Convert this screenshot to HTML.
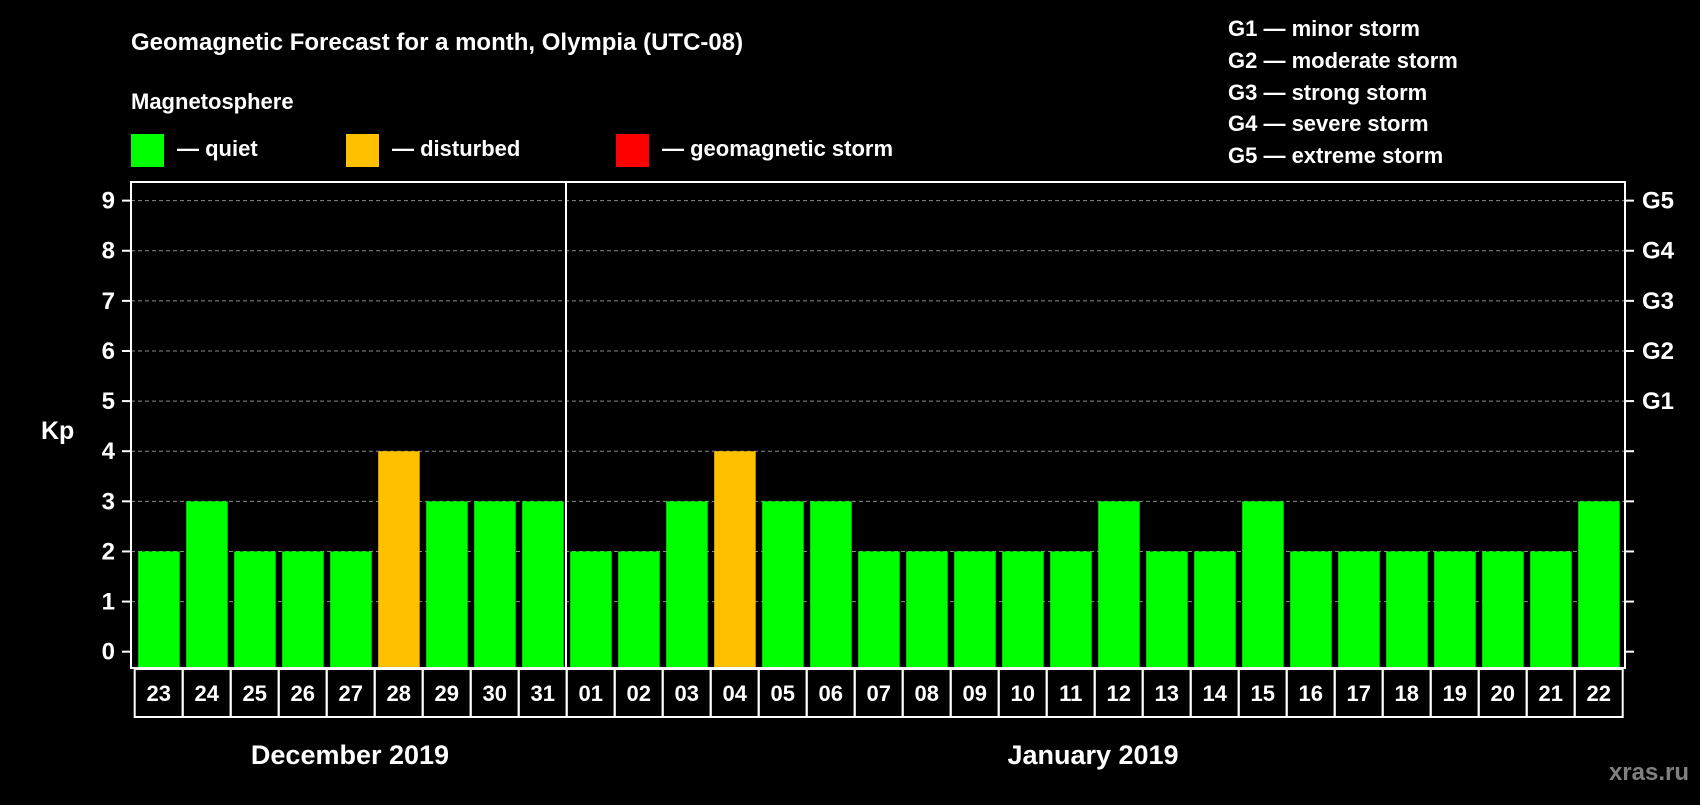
<!DOCTYPE html>
<html><head><meta charset="utf-8"><style>
body{margin:0;background:#000;width:1700px;height:800px;overflow:hidden}
svg text{font-family:"Liberation Sans",Arial,sans-serif;font-weight:bold;fill:#fff}
</style></head><body>
<svg id="chart" width="1700" height="800" xmlns="http://www.w3.org/2000/svg">
<rect width="1700" height="800" fill="#000"/>
<text x="131" y="50" font-size="24">Geomagnetic Forecast for a month, Olympia (UTC-08)</text>
<text x="131" y="109" font-size="22">Magnetosphere</text>
<g><rect x="131" y="134" width="33" height="33" fill="#00ff00"/><text x="177" y="156" font-size="22">— quiet</text></g>
<g><rect x="346" y="134" width="33" height="33" fill="#ffc000"/><text x="392" y="156" font-size="22">— disturbed</text></g>
<g><rect x="616" y="134" width="33" height="33" fill="#ff0000"/><text x="662" y="156" font-size="22">— geomagnetic storm</text></g>
<g font-size="22">
<text x="1228" y="36">G1 — minor storm</text>
<text x="1228" y="68">G2 — moderate storm</text>
<text x="1228" y="100">G3 — strong storm</text>
<text x="1228" y="131">G4 — severe storm</text>
<text x="1228" y="163">G5 — extreme storm</text>
</g>
<text x="41" y="439" font-size="25">Kp</text>
<g id="grid"></g><g id="bars"></g><g id="axes"></g><g id="dates"></g>
<text x="350" y="764" font-size="27" text-anchor="middle">December 2019</text>
<text x="1093" y="764" font-size="27" text-anchor="middle">January 2019</text>
<text x="1689" y="780" font-size="24" text-anchor="end" style="fill:#808080">xras.ru</text>
</svg>
<script>
const days=["23","24","25","26","27","28","29","30","31","01","02","03","04","05","06","07","08","09","10","11","12","13","14","15","16","17","18","19","20","21","22"];
const kpValues=[2,3,2,2,2,4,3,3,3,2,2,3,4,3,3,2,2,2,2,2,3,2,2,3,2,2,2,2,2,2,3];
const yTicks=[0,1,2,3,4,5,6,7,8,9];
const gLabels=["","","","","","G1","G2","G3","G4","G5"];
const NS="http://www.w3.org/2000/svg";
const L=131,R=1625,T=182,B=668,boxL=134.7,pitch=48;
const y=v=>651.7-50.12*v;
const x=i=>boxL+pitch*i;
function mk(tag,a,p){const e=document.createElementNS(NS,tag);for(const k in a)e.setAttribute(k,a[k]);p.appendChild(e);return e;}
const grid=document.getElementById('grid'),bars=document.getElementById('bars'),axes=document.getElementById('axes'),dates=document.getElementById('dates');
yTicks.forEach((t,i)=>{
 if(t>0){const g=mk('line',{x1:L,x2:R,y1:y(t),y2:y(t),stroke:'#8a8a8a','stroke-width':1,'stroke-dasharray':'4 3'},grid);
 }
 const tl=mk('line',{x1:L-9,x2:L,y1:y(t),y2:y(t),stroke:'#fff','stroke-width':2},axes);
 
 const tr=mk('line',{x1:R,x2:R+9,y1:y(t),y2:y(t),stroke:'#fff','stroke-width':2},axes);
 
 const lb=mk('text',{x:115,y:y(t)+8,'font-size':24,'text-anchor':'end'},axes);lb.textContent=t;
 
 if(gLabels[i]){const gl=mk('text',{x:1642,y:y(t)+8,'font-size':24},axes);gl.textContent=gLabels[i];
 }
});
kpValues.forEach((v,i)=>{
 const c=v>=5?'#ff0000':(v>=4?'#ffc000':'#00ff00');
 const r=mk('rect',{x:x(i)+3.5,y:y(v),width:41.5,height:B-y(v),fill:c},bars);
 
});
const frame=mk('rect',{x:L,y:T,width:R-L,height:B-T,fill:'none',stroke:'#fff','stroke-width':2},axes);

const div=mk('line',{x1:566,x2:566,y1:T,y2:B,stroke:'#fff','stroke-width':2},axes);

days.forEach((d,i)=>{
 const b=mk('rect',{x:x(i),y:669,width:pitch,height:48,fill:'none',stroke:'#fff','stroke-width':2},dates);
 
 const t=mk('text',{x:x(i)+pitch/2,y:701,'font-size':22,'text-anchor':'middle'},dates);t.textContent=d;
 
});
</script>
</body></html>
